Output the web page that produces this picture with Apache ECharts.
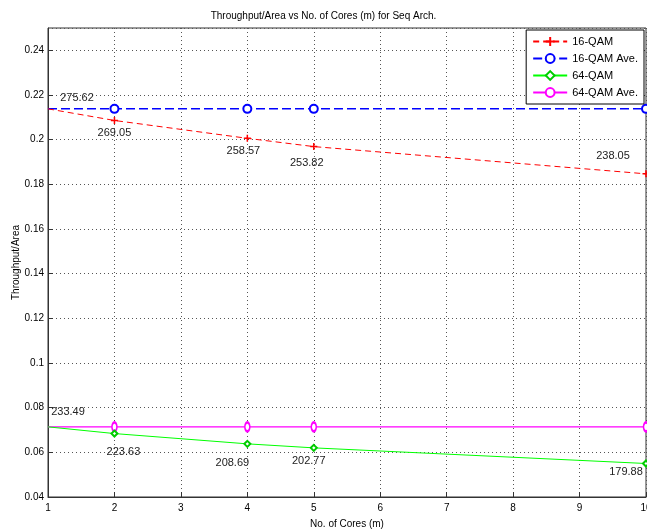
<!DOCTYPE html>
<html>
<head>
<meta charset="utf-8">
<style>
  html, body { margin: 0; padding: 0; background: #fff; }
  #chart { width: 647px; height: 531px; }
</style>
<script src="https://cdn.jsdelivr.net/npm/echarts@6/dist/echarts.min.js"></script>
</head>
<body>
<div id="chart"></div>
<script>
// cores (x)
const cores = [1, 2, 4, 5, 10]
// throughput/area values
const qam16 = [0.2138, 0.2086, 0.2006, 0.1969, 0.1847]
const qam16Ave = [0.2138, 0.2138, 0.2138, 0.2138, 0.2138]
const qam64 = [0.0714, 0.0684, 0.0638, 0.0620, 0.0550]
const qam64Ave = [0.0714, 0.0714, 0.0714, 0.0714, 0.0714]
// annotations
const qam16Labels = ['275.62', '269.05', '258.57', '253.82', '238.05']
const qam64Labels = ['233.49', '223.63', '208.69', '202.77', '179.88']

const font = 'Liberation Sans, Arial, sans-serif'

const off16 = [[29, -11], [0, 13], [-4, 13], [-7, 16], [-33, -18]]
const off64 = [[20, -15], [9, 18], [-15, 19], [-5, 13], [-20, 8]]

function pts(ys, labels, offs) {
  return cores.map(function(x, i) {
    const item = { value: [x, ys[i]] }
    // no marker visible on the first point (it sits on the axis)
    if (i === 0) item.symbolSize = 0
    if (labels) {
      item.label = {
        show: true,
        position: 'inside',
        offset: offs[i],
        formatter: labels[i],
        color: '#222',
        fontSize: 11,
        fontFamily: font
      }
    }
    return item
  })
}

const chart = echarts.init(document.getElementById('chart'))
chart.setOption({
  animation: false,
  title: {
    text: 'Throughput/Area vs No. of Cores (m) for Seq Arch.',
    left: 'center',
    top: 6,
    textStyle: { fontSize: 10, fontWeight: 'normal', color: '#000', fontFamily: font }
  },
  legend: {
    right: 3,
    top: 30,
    orient: 'vertical',
    backgroundColor: '#fff',
    borderColor: '#000',
    borderWidth: 1,
    borderRadius: 0,
    padding: [6, 6, 6, 6],
    itemGap: 6,
    itemWidth: 34,
    itemHeight: 11,
    textStyle: { fontSize: 11, color: '#000', fontFamily: font },
    data: ['16-QAM', '16-QAM Ave.', '64-QAM', '64-QAM Ave.']
  },
  grid: {
    left: 48,
    right: 1,
    top: 28,
    bottom: 34,
    outerBoundsMode: 'none',
    show: true,
    borderColor: '#333',
    borderWidth: 1
  },
  xAxis: {
    type: 'value',
    min: 1,
    max: 10,
    interval: 1,
    name: 'No. of Cores (m)',
    nameLocation: 'middle',
    nameGap: 22,
    nameMoveOverlap: false,
    nameTextStyle: { fontSize: 10, color: '#000', fontFamily: font },
    axisLine: { lineStyle: { color: '#333' } },
    axisTick: { inside: true, length: 5, lineStyle: { color: '#333' } },
    axisLabel: { fontSize: 10, color: '#000', fontFamily: font, margin: 6 },
    splitLine: { show: true, lineStyle: { type: [1, 3], color: '#555' } }
  },
  yAxis: {
    type: 'value',
    min: 0.04,
    max: 0.25,
    interval: 0.02,
    name: 'Throughput/Area',
    nameLocation: 'middle',
    nameGap: 27,
    nameMoveOverlap: false,
    nameTextStyle: { fontSize: 10, color: '#000', fontFamily: font },
    axisLine: { show: true, lineStyle: { color: '#333' } },
    axisTick: { show: true, inside: true, length: 5, lineStyle: { color: '#333' } },
    axisLabel: { fontSize: 10, color: '#000', fontFamily: font, margin: 4, showMaxLabel: false },
    splitLine: { show: true, lineStyle: { type: [1, 3], color: '#555' } }
  },
  series: [
    {
      name: '16-QAM',
      type: 'line',
      data: pts(qam16, qam16Labels, off16),
      symbol: 'path://M-1,0L1,0M0,-1L0,1',
      symbolSize: 7,
      color: '#ff0000',
      itemStyle: { color: '#ff0000', borderColor: '#ff0000', borderWidth: 1.5 },
      lineStyle: { color: '#ff0000', width: 1, type: [6, 4] },
      z: 3
    },
    {
      name: '16-QAM Ave.',
      type: 'line',
      data: pts(qam16Ave),
      symbol: 'emptyCircle',
      symbolSize: 8,
      color: '#0000ff',
      itemStyle: { color: '#0000ff', borderWidth: 1 },
      lineStyle: { color: '#0000ff', width: 1.5, type: [9, 4] },
      z: 2
    },
    {
      name: '64-QAM',
      type: 'line',
      data: pts(qam64, qam64Labels, off64),
      symbol: 'emptyDiamond',
      symbolSize: 6,
      color: '#00ee00',
      itemStyle: { color: '#00cc00', borderWidth: 1.5 },
      lineStyle: { color: '#00ff00', width: 1 },
      z: 3
    },
    {
      name: '64-QAM Ave.',
      type: 'line',
      data: pts(qam64Ave),
      symbol: 'emptyCircle',
      symbolSize: [5, 9],
      color: '#ff00ff',
      itemStyle: { color: '#ff00ff', borderWidth: 1 },
      lineStyle: { color: '#ff00ff', width: 1.2 },
      z: 2
    }
  ]
})
</script>
</body>
</html>
